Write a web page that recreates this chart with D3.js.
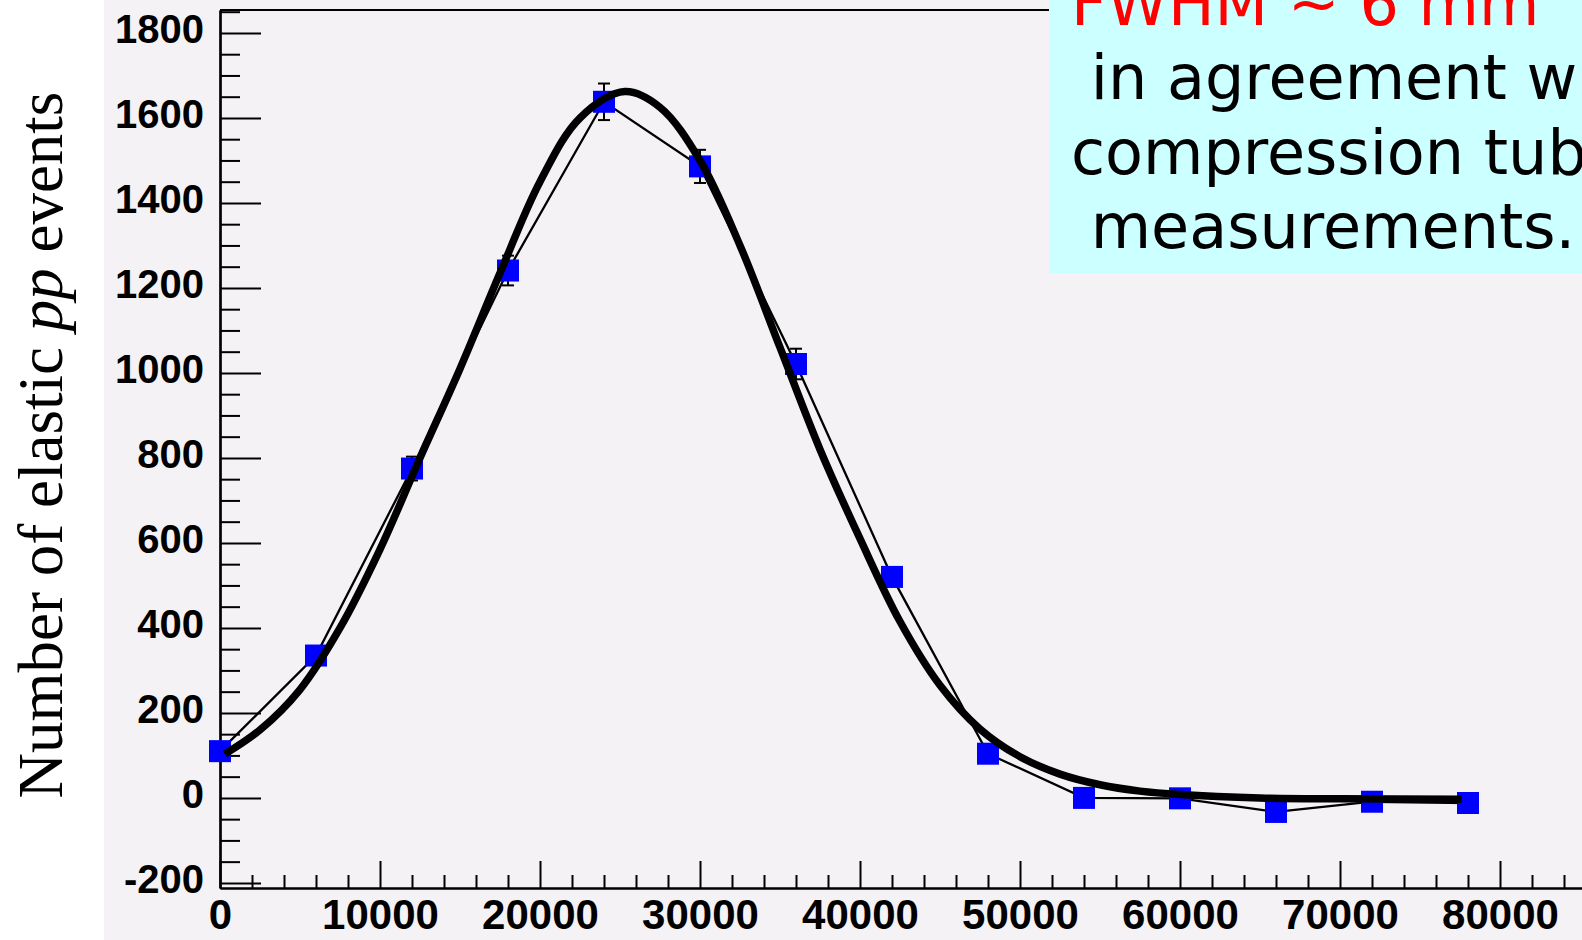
<!DOCTYPE html>
<html>
<head>
<meta charset="utf-8">
<script src="https://cdn.jsdelivr.net/npm/d3@7"></script>
<style>
  body { margin: 0; background: #ffffff; }
  svg { display: block; }
</style>
</head>
<body>
<script>
// Measured elastic pp event counts per position bin
const positions = [0, 6000, 12000, 18000, 24000, 30000, 36000, 42000, 48000, 54000, 60000, 66000, 72000, 78000];
const events = [110, 335, 775, 1241, 1638, 1486, 1021, 520, 104, 0, -1, -33, -9, -12];
const eventErrors = [11, 18, 28, 35, 43, 39, 36, 23, 10, 3, 3, 6, 3, 3];

// Fitted beam profile, sampled along the position axis
const fitPositions = [300, 2500, 5000, 7500, 10000, 12500, 15000, 17500, 20000, 22500, 25300, 27500, 30000, 32500, 35000, 37500, 40000, 42500, 45000, 47500, 50000, 52500, 55000, 57500, 60000, 65000, 70000, 77600];
const fitEvents = [103, 160, 255, 400, 585, 800, 1010, 1235, 1450, 1600, 1662, 1625, 1500, 1300, 1060, 820, 610, 415, 265, 162, 97, 56, 31, 16, 8, 0, -2, -3];

// Axis ticks
const xMajorTicks = [0, 10000, 20000, 30000, 40000, 50000, 60000, 70000, 80000];
const yMajorTicks = [-200, 0, 200, 400, 600, 800, 1000, 1200, 1400, 1600, 1800];

// Annotation
const noteTitle = "FWHM ~ 6 mm";
const noteLines = [" in agreement with", "compression tube", " measurements."];

const W = 1582, H = 940;
const svg = d3.select("body").append("svg").attr("width", W).attr("height", H);

// pad background
svg.append("rect").attr("x", 104).attr("y", 0).attr("width", W - 104).attr("height", H).attr("fill", "#f5f2f6");

const x = d3.scaleLinear().domain([0, 86000]).range([220, 1596]);
const y = d3.scaleLinear().domain([-212, 1854]).range([888, 10]);

const axisFont = "'Liberation Sans', Arial, Helvetica, sans-serif";
const plain = d => String(d);

// minor ticks
const xMinor = d3.range(0, 86001, 2000).filter(v => v % 10000 !== 0);
const yMinor = d3.range(-200, 1851, 50).filter(v => v % 200 !== 0);

const gxMinor = svg.append("g").attr("transform", `translate(0,${y.range()[0]})`)
  .call(d3.axisBottom(x).tickValues(xMinor).tickSizeInner(-13).tickSizeOuter(0).tickFormat(""));
const gyMinor = svg.append("g").attr("transform", `translate(${x.range()[0]},0)`)
  .call(d3.axisLeft(y).tickValues(yMinor).tickSizeInner(-20).tickSizeOuter(0).tickFormat(""));

const gx = svg.append("g").attr("transform", `translate(0,${y.range()[0]})`)
  .call(d3.axisBottom(x).tickValues(xMajorTicks).tickSizeInner(-27).tickSizeOuter(0).tickPadding(10.7).tickFormat(plain));
const gy = svg.append("g").attr("transform", `translate(${x.range()[0]},0)`)
  .call(d3.axisLeft(y).tickValues(yMajorTicks).tickSizeInner(-41).tickSizeOuter(0).tickPadding(16).tickFormat(plain));

[gxMinor, gyMinor, gx, gy].forEach(g => {
  g.selectAll(".domain").attr("stroke", "#000").attr("stroke-width", 2.2);
  g.selectAll(".tick line").attr("stroke", "#000").attr("stroke-width", 2);
});
gx.selectAll("text").attr("font-family", axisFont).attr("font-weight", "bold").attr("font-size", 42).attr("fill", "#000");
gy.selectAll("text").attr("font-family", axisFont).attr("font-weight", "bold").attr("font-size", 40).attr("fill", "#000").attr("dy", "0.235em");

// top frame line
svg.append("line").attr("x1", x.range()[0]).attr("x2", x.range()[1]).attr("y1", y.range()[1]).attr("y2", y.range()[1])
  .attr("stroke", "#000").attr("stroke-width", 2.2);

// y axis title
const yTitle = svg.append("text")
  .attr("transform", `translate(62,445) rotate(-90)`)
  .attr("text-anchor", "middle")
  .attr("font-family", "'Liberation Serif', 'Times New Roman', serif")
  .attr("font-size", 63)
  .attr("fill", "#000");
yTitle.append("tspan").text("Number of elastic ");
yTitle.append("tspan").attr("font-style", "italic").text("pp");
yTitle.append("tspan").text(" events");

const pts = positions.map((p, i) => ({ p, v: events[i], e: eventErrors[i] }));

// error bars
const eb = svg.append("g").attr("stroke", "#000").attr("stroke-width", 2);
pts.forEach(d => {
  eb.append("line").attr("x1", x(d.p)).attr("x2", x(d.p)).attr("y1", y(d.v - d.e)).attr("y2", y(d.v + d.e));
  eb.append("line").attr("x1", x(d.p) - 6).attr("x2", x(d.p) + 6).attr("y1", y(d.v - d.e)).attr("y2", y(d.v - d.e));
  eb.append("line").attr("x1", x(d.p) - 6).attr("x2", x(d.p) + 6).attr("y1", y(d.v + d.e)).attr("y2", y(d.v + d.e));
});

// polyline through measured points
svg.append("path").datum(pts)
  .attr("d", d3.line().x(d => x(d.p)).y(d => y(d.v)))
  .attr("fill", "none").attr("stroke", "#000").attr("stroke-width", 2.3);

// square markers
svg.append("g").selectAll("rect").data(pts).join("rect")
  .attr("x", d => x(d.p) - 11).attr("y", d => y(d.v) - 11)
  .attr("width", 22).attr("height", 22).attr("fill", "#0000ff");

// fitted curve
const fit = fitPositions.map((p, i) => ({ p, v: fitEvents[i] }));
svg.append("path").datum(fit)
  .attr("d", d3.line().x(d => x(d.p)).y(d => y(d.v)).curve(d3.curveCatmullRom.alpha(0.5)))
  .attr("fill", "none").attr("stroke", "#000").attr("stroke-width", 7.5)
  .attr("stroke-linejoin", "round");

// annotation box
svg.append("rect").attr("x", 1049).attr("y", 0).attr("width", W - 1049).attr("height", 273).attr("fill", "#ccffff");
const noteFont = "'DejaVu Sans', Verdana, sans-serif";
svg.append("text").attr("x", 1071).attr("y", 25).attr("font-family", noteFont).attr("font-size", 62)
  .attr("fill", "#ff0000").style("white-space", "pre").text(noteTitle);
noteLines.forEach((t, i) => {
  svg.append("text").attr("x", 1071).attr("y", 99.3 + i * 74.5).attr("font-family", noteFont).attr("font-size", 62)
    .attr("fill", "#000").style("white-space", "pre").text(t);
});
</script>
</body>
</html>
